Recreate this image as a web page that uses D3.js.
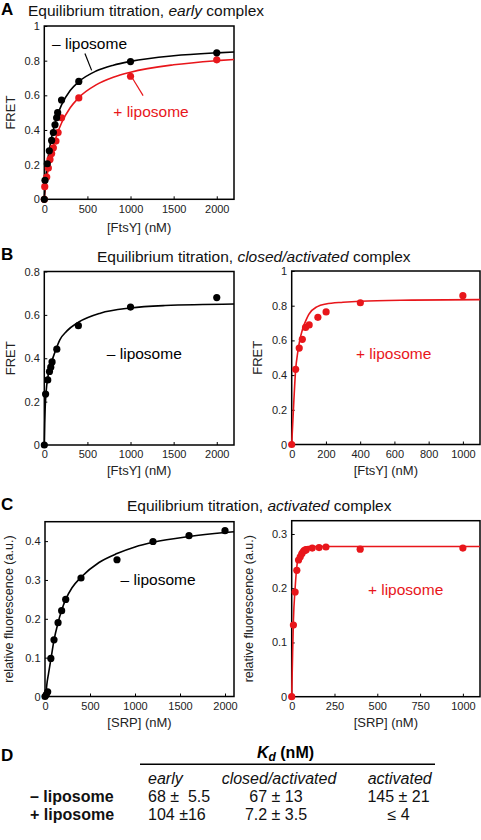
<!DOCTYPE html>
<html><head><meta charset="utf-8">
<script src="https://cdn.jsdelivr.net/npm/d3@7"></script>
<style>
html,body{margin:0;padding:0;background:#fff;}
svg{display:block;font-family:"Liberation Sans",Arial,Helvetica,sans-serif;}
.pre{white-space:pre;}
</style></head><body>
<svg id="chart" width="481" height="840"></svg>
<script>
// ---------------- DATA ----------------
// Panel A (early complex): FRET vs [FtsY] (nM)
const aMinusX = [0, 8, 35, 58, 85, 105, 124, 143, 155, 200, 400, 1000, 2000];
const aMinusY = [0, 0.11, 0.205, 0.28, 0.34, 0.385, 0.43, 0.47, 0.50, 0.573, 0.68, 0.795, 0.845];
const aPlusX  = [0, 5, 28, 47, 66, 85, 105, 135, 160, 200, 400, 1000, 2000];
const aPlusY  = [0, 0.073, 0.128, 0.18, 0.23, 0.264, 0.297, 0.336, 0.385, 0.47, 0.585, 0.71, 0.805];
const aFitX      = [0, 10, 25, 50, 75, 100, 150, 200, 300, 400, 600, 800, 1000, 1500, 2000, 2200];
const aMinusFitY = [0, 0.09, 0.165, 0.26, 0.332, 0.392, 0.482, 0.545, 0.628, 0.679, 0.74, 0.774, 0.796, 0.828, 0.845, 0.85];
const aPlusFitY  = [0, 0.055, 0.115, 0.185, 0.243, 0.295, 0.378, 0.44, 0.528, 0.587, 0.66, 0.704, 0.733, 0.776, 0.8, 0.807];
const aXTicks = [0, 500, 1000, 1500, 2000];
const aYTicks = [0, 0.2, 0.4, 0.6, 0.8, 1];

// Panel B (closed/activated complex)
const bMinusX = [0, 15, 40, 60, 75, 90, 145, 395, 1000, 2000];
const bMinusY = [0, 0.235, 0.30, 0.339, 0.359, 0.383, 0.442, 0.55, 0.636, 0.68];
const bMinusFitX = [0, 5, 10, 20, 40, 75, 125, 180, 260, 400, 650, 1000, 1400, 2200];
const bMinusFitY = [0, 0.10, 0.17, 0.24, 0.31, 0.37, 0.43, 0.485, 0.525, 0.567, 0.608, 0.632, 0.643, 0.65];
const bPlusX = [0, 23, 44, 62, 81, 102, 153, 201, 401, 1000];
const bPlusY = [0, 0.433, 0.556, 0.606, 0.675, 0.689, 0.733, 0.764, 0.817, 0.858];
const bPlusFitX = [0, 13, 23, 35, 45, 65, 85, 100, 150, 200, 300, 400, 700, 1100];
const bPlusFitY = [0, 0.26, 0.43, 0.53, 0.59, 0.67, 0.72, 0.75, 0.795, 0.81, 0.82, 0.826, 0.832, 0.835];
const bLeftXTicks = [0, 500, 1000, 1500, 2000];
const bLeftYTicks = [0, 0.2, 0.4, 0.6, 0.8];
const bRightXTicks = [0, 200, 400, 600, 800, 1000];
const bRightYTicks = [0, 0.2, 0.4, 0.6, 0.8, 1];

// Panel C (activated complex): relative fluorescence vs [SRP] (nM)
const cMinusX = [0, 15, 30, 65, 100, 145, 185, 230, 400, 800, 1200, 1600, 2000];
const cMinusY = [0, 0.005, 0.012, 0.098, 0.146, 0.19, 0.221, 0.25, 0.305, 0.352, 0.399, 0.414, 0.427];
const cMinusFitX = [0, 10, 20, 40, 67, 100, 145, 185, 230, 300, 400, 600, 800, 1000, 1200, 1600, 2000, 2100];
const cMinusFitY = [0, 0.005, 0.03, 0.06, 0.098, 0.145, 0.19, 0.222, 0.25, 0.28, 0.307, 0.345, 0.368, 0.385, 0.397, 0.412, 0.422, 0.424];
const cPlusX = [0, 10, 20, 30, 40, 50, 60, 75, 85, 120, 160, 200, 400, 1000];
const cPlusY = [0, 0.132, 0.193, 0.233, 0.252, 0.258, 0.264, 0.269, 0.271, 0.274, 0.275, 0.276, 0.272, 0.274];
const cPlusFitX = [0, 5, 10, 20, 30, 40, 55, 70, 100, 1100];
const cPlusFitY = [0, 0.075, 0.14, 0.2, 0.24, 0.26, 0.271, 0.275, 0.277, 0.277];
const cLeftXTicks = [0, 500, 1000, 1500, 2000];
const cLeftYTicks = [0, 0.1, 0.2, 0.3, 0.4];
const cRightXTicks = [0, 250, 500, 750, 1000];
const cRightYTicks = [0, 0.1, 0.2, 0.3];

// Panel D table
const tableCols = ["early", "closed/activated", "activated"];
const tableRows = ["\u2013 liposome", "+ liposome"];
const tableVals = [["68 \u00b1  5.5", "67 \u00b1 13", "145 \u00b1 21"],
                   ["104 \u00b116", "7.2 \u00b1 3.5", "\u2264 4"]];

// ---------------- DRAW ----------------
const svg = d3.select("#chart");
const RED = "#e8161b";
const BLACK = "#000";
const zip = (xs, ys) => xs.map((v, i) => [v, ys[i]]);
const fmtY = d => String(+d.toFixed(2));

function panel(o) {
  const x = d3.scaleLinear().domain(o.xDomain).range([o.left, o.right]);
  const y = d3.scaleLinear().domain(o.yDomain).range([o.bottom, o.top]);
  const g = svg.append("g");

  const xa = d3.axisBottom(x).tickValues(o.xTicks).tickFormat(d3.format("d"))
    .tickSizeInner(-3).tickSizeOuter(0).tickPadding(5.5);
  const ya = d3.axisLeft(y).tickValues(o.yTicks).tickFormat(fmtY)
    .tickSizeInner(-3).tickSizeOuter(0).tickPadding(4.5);
  const gx = g.append("g").attr("transform", `translate(0,${o.bottom})`).call(xa);
  const gy = g.append("g").attr("transform", `translate(${o.left},0)`).call(ya);
  [gx, gy].forEach(a => {
    a.select(".domain").remove();
    a.selectAll("text").attr("font-size", 11).attr("fill", "#222")
      .attr("font-family", "Liberation Sans, Arial, sans-serif");
    a.selectAll("line").attr("stroke", "#000").attr("stroke-width", 1);
  });

  g.append("rect").attr("x", o.left).attr("y", o.top)
    .attr("width", o.right - o.left).attr("height", o.bottom - o.top)
    .attr("fill", "none").attr("stroke", "#000").attr("stroke-width", 1.5);

  const line = d3.line().x(d => x(d[0])).y(d => y(d[1])).curve(d3.curveMonotoneX);
  o.series.forEach(s => {
    g.append("path").datum(zip(s.fitX, s.fitY)).attr("d", line)
      .attr("fill", "none").attr("stroke", s.color).attr("stroke-width", 1.6);
  });
  o.series.forEach(s => {
    g.selectAll(null).data(zip(s.x, s.y)).enter().append("circle")
      .attr("cx", d => x(d[0])).attr("cy", d => y(d[1])).attr("r", 3.6)
      .attr("fill", s.color);
  });

  // axis labels
  g.append("text").attr("x", (o.left + o.right) / 2).attr("y", o.xLabelY)
    .attr("text-anchor", "middle").attr("font-size", 13).attr("fill", "#222").text(o.xLabel);
  g.append("text").attr("transform", `translate(${o.yLabelX},${(o.top + o.bottom) / 2}) rotate(-90)`)
    .attr("text-anchor", "middle").attr("font-size", o.yLabelSize || 13).attr("fill", "#222").text(o.yLabel);

  (o.notes || []).forEach(n => {
    g.append("text").attr("x", x(n.x)).attr("y", y(n.y)).attr("font-size", 15.5)
      .attr("fill", n.color).text(n.text);
  });
  (o.leaders || []).forEach(l => {
    g.append("line").attr("x1", x(l.x1)).attr("y1", y(l.y1)).attr("x2", x(l.x2)).attr("y2", y(l.y2))
      .attr("stroke", l.color).attr("stroke-width", 1.2);
  });
  return {x, y};
}

function title(xPos, yPos, pre, ital, post) {
  const t = svg.append("text").attr("x", xPos).attr("y", yPos).attr("font-size", 15.5).attr("fill", "#111");
  t.append("tspan").text(pre);
  t.append("tspan").attr("font-style", "italic").text(ital);
  t.append("tspan").text(post);
}
function letter(l, yPos) {
  svg.append("text").attr("x", 1).attr("y", yPos).attr("font-size", 17).attr("font-weight", "bold").text(l);
}

// Panel A
letter("A", 15);
title(28, 16, "Equilibrium titration, ", "early", " complex");
panel({
  left: 44.3, right: 234, top: 26, bottom: 199.3,
  xDomain: [0, 2200], yDomain: [0, 1], xTicks: aXTicks, yTicks: aYTicks,
  xLabel: "[FtsY] (nM)", xLabelY: 232, yLabel: "FRET", yLabelX: 15,
  series: [
    {x: aPlusX, y: aPlusY, fitX: aFitX, fitY: aPlusFitY, color: RED},
    {x: aMinusX, y: aMinusY, fitX: aFitX, fitY: aMinusFitY, color: BLACK}
  ],
  notes: [
    {text: "\u2013 liposome", x: 90, y: 0.865, color: BLACK},
    {text: "+ liposome", x: 800, y: 0.475, color: RED}
  ],
  leaders: [
    {x1: 471, y1: 0.841, x2: 549, y2: 0.744, color: BLACK},
    {x1: 1012, y1: 0.707, x2: 1146, y2: 0.598, color: RED}
  ]
});

// Panel B
letter("B", 260);
title(97, 261.5, "Equilibrium titration, ", "closed/activated", " complex");
panel({
  left: 44.3, right: 234, top: 271.5, bottom: 445,
  xDomain: [0, 2200], yDomain: [0, 0.8], xTicks: bLeftXTicks, yTicks: bLeftYTicks,
  xLabel: "[FtsY] (nM)", xLabelY: 475, yLabel: "FRET", yLabelX: 15,
  series: [{x: bMinusX, y: bMinusY, fitX: bMinusFitX, fitY: bMinusFitY, color: BLACK}],
  notes: [{text: "\u2013 liposome", x: 725, y: 0.395, color: BLACK}]
});
panel({
  left: 291.7, right: 480, top: 271, bottom: 444.5,
  xDomain: [0, 1100], yDomain: [0, 1], xTicks: bRightXTicks, yTicks: bRightYTicks,
  xLabel: "[FtsY] (nM)", xLabelY: 475, yLabel: "FRET", yLabelX: 261.5,
  series: [{x: bPlusX, y: bPlusY, fitX: bPlusFitX, fitY: bPlusFitY, color: RED}],
  notes: [{text: "+ liposome", x: 375, y: 0.49, color: RED}]
});

// Panel C
letter("C", 510);
title(127, 511, "Equilibrium titration, ", "activated", " complex");
panel({
  left: 45, right: 234, top: 521.7, bottom: 696.5,
  xDomain: [0, 2100], yDomain: [0, 0.45], xTicks: cLeftXTicks, yTicks: cLeftYTicks,
  xLabel: "[SRP] (nM)", xLabelY: 727, yLabel: "relative fluorescence (a.u.)", yLabelX: 13, yLabelSize: 12.5,
  series: [{x: cMinusX, y: cMinusY, fitX: cMinusFitX, fitY: cMinusFitY, color: BLACK}],
  notes: [{text: "\u2013 liposome", x: 840, y: 0.2875, color: BLACK}]
});
panel({
  left: 291.7, right: 480, top: 520.7, bottom: 696.7,
  xDomain: [0, 1100], yDomain: [0, 0.3245], xTicks: cRightXTicks, yTicks: cRightYTicks,
  xLabel: "[SRP] (nM)", xLabelY: 727, yLabel: "relative fluorescence (a.u.)", yLabelX: 253, yLabelSize: 12.5,
  series: [{x: cPlusX, y: cPlusY, fitX: cPlusFitX, fitY: cPlusFitY, color: RED}],
  notes: [{text: "+ liposome", x: 445, y: 0.1875, color: RED}]
});

// Panel D table
letter("D", 761);
const kd = svg.append("text").attr("x", 285.5).attr("y", 757.5).attr("text-anchor", "middle")
  .attr("font-size", 16).attr("font-weight", "bold");
kd.append("tspan").attr("font-style", "italic").text("K");
kd.append("tspan").attr("font-style", "italic").attr("font-size", 12).attr("dy", 3).text("d");
kd.append("tspan").attr("dy", -3).text(" (nM)");
svg.append("line").attr("x1", 140).attr("x2", 435).attr("y1", 764.3).attr("y2", 764.3)
  .attr("stroke", "#000").attr("stroke-width", 1.5);
const colX = [165.5, 279, 399.7];
const colAnchorStart = [148, null, null];
tableCols.forEach((c, i) => {
  svg.append("text").attr("x", i === 0 ? 148 : colX[i]).attr("y", 784)
    .attr("text-anchor", i === 0 ? "start" : "middle")
    .attr("font-size", 16).attr("font-style", "italic").attr("fill", "#111").text(c);
});
const rowY = [802, 819.5];
const valX = [148, 276, 398.5];
tableRows.forEach((r, j) => {
  svg.append("text").attr("x", 30).attr("y", rowY[j]).attr("font-size", 16)
    .attr("font-weight", "bold").attr("fill", "#111").text(r);
  tableVals[j].forEach((v, i) => {
    svg.append("text").attr("class", "pre").attr("x", valX[i]).attr("y", rowY[j])
      .attr("text-anchor", i === 0 ? "start" : "middle")
      .attr("font-size", 16).attr("fill", "#111").text(v);
  });
});
</script>
</body></html>
